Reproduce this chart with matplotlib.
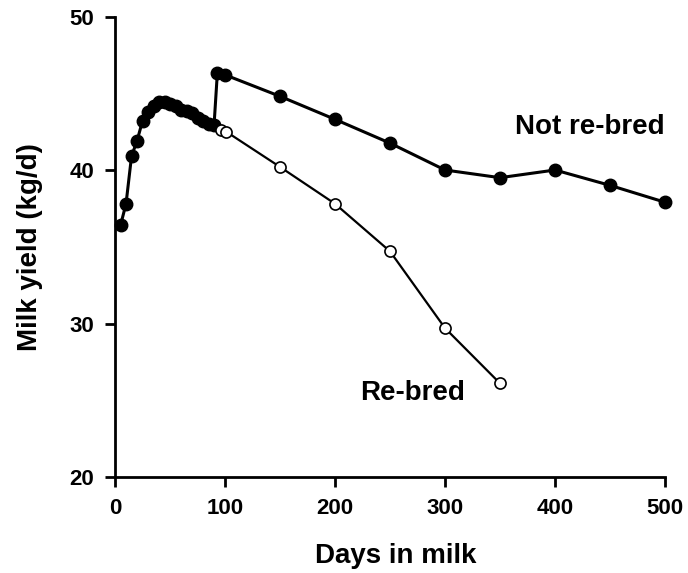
import numpy as np
import matplotlib
matplotlib.use('Agg')
import matplotlib.pyplot as plt

plt.rcParams['font.family'] = ['Liberation Sans', 'DejaVu Sans']
plt.rcParams['font.weight'] = 'bold'

# early lactation, shared by both groups
days_common = [5, 10, 15, 20, 25, 30, 35, 40, 45, 50, 55, 60, 65, 70, 75, 80, 85, 90]
yield_common = [36.4, 37.8, 40.9, 41.9, 43.2, 43.8, 44.2, 44.4, 44.4, 44.3, 44.2, 43.9,
                43.85, 43.7, 43.4, 43.2, 43.0, 42.9]

# not re-bred cows
days_not = [93, 100, 150, 200, 250, 300, 350, 400, 450, 500]
yield_not = [46.3, 46.2, 44.8, 43.3, 41.75, 40.0, 39.5, 40.0, 39.0, 37.9]

# re-bred cows
days_re = [96, 101, 150, 200, 250, 300, 350]
yield_re = [42.6, 42.5, 40.2, 37.8, 34.7, 29.7, 26.1]

fig = plt.figure(figsize=(6.88, 5.73), dpi=100)
ax = fig.add_axes([0.1672, 0.1675, 0.7994, 0.8037])

# filled: common part + not re-bred
x_not = days_common + days_not
y_not = yield_common + yield_not
ax.plot(x_not, y_not, color='black', lw=2.2, marker='o', ms=9,
        mfc='black', mec='black', zorder=3, clip_on=False)

# open: re-bred, branching off the last common point
x_re = [days_common[-1]] + days_re
y_re = [yield_common[-1]] + yield_re
ax.plot(x_re, y_re, color='black', lw=1.6, zorder=4, clip_on=False)
ax.plot(days_re, yield_re, ls='none', marker='o', ms=8, mfc='white',
        mec='black', mew=1.2, zorder=5, clip_on=False)

ax.text(364, 42.35, 'Not re-bred', fontsize=20, fontweight='bold', ha='left', va='baseline')
ax.text(223, 25.05, 'Re-bred', fontsize=20, fontweight='bold', ha='left', va='baseline')

ax.set_xlim(0, 500)
ax.set_ylim(20, 50)
ax.set_xticks([0, 100, 200, 300, 400, 500])
ax.set_yticks([20, 30, 40, 50])
ax.spines['top'].set_visible(False)
ax.spines['right'].set_visible(False)
for s in ['left', 'bottom']:
    ax.spines[s].set_linewidth(2)
ax.tick_params(direction='out', length=7, width=2, labelsize=16, pad=8)
for lab in ax.get_xticklabels() + ax.get_yticklabels():
    lab.set_fontweight('bold')

ax.set_xlabel('Days in milk', fontsize=20, fontweight='bold')
ax.set_ylabel('Milk yield (kg/d)', fontsize=20, fontweight='bold')
ax.xaxis.set_label_coords(0.51, -0.143)
ax.yaxis.set_label_coords(-0.131, 0.5)

plt.savefig('out.png', dpi=100)
